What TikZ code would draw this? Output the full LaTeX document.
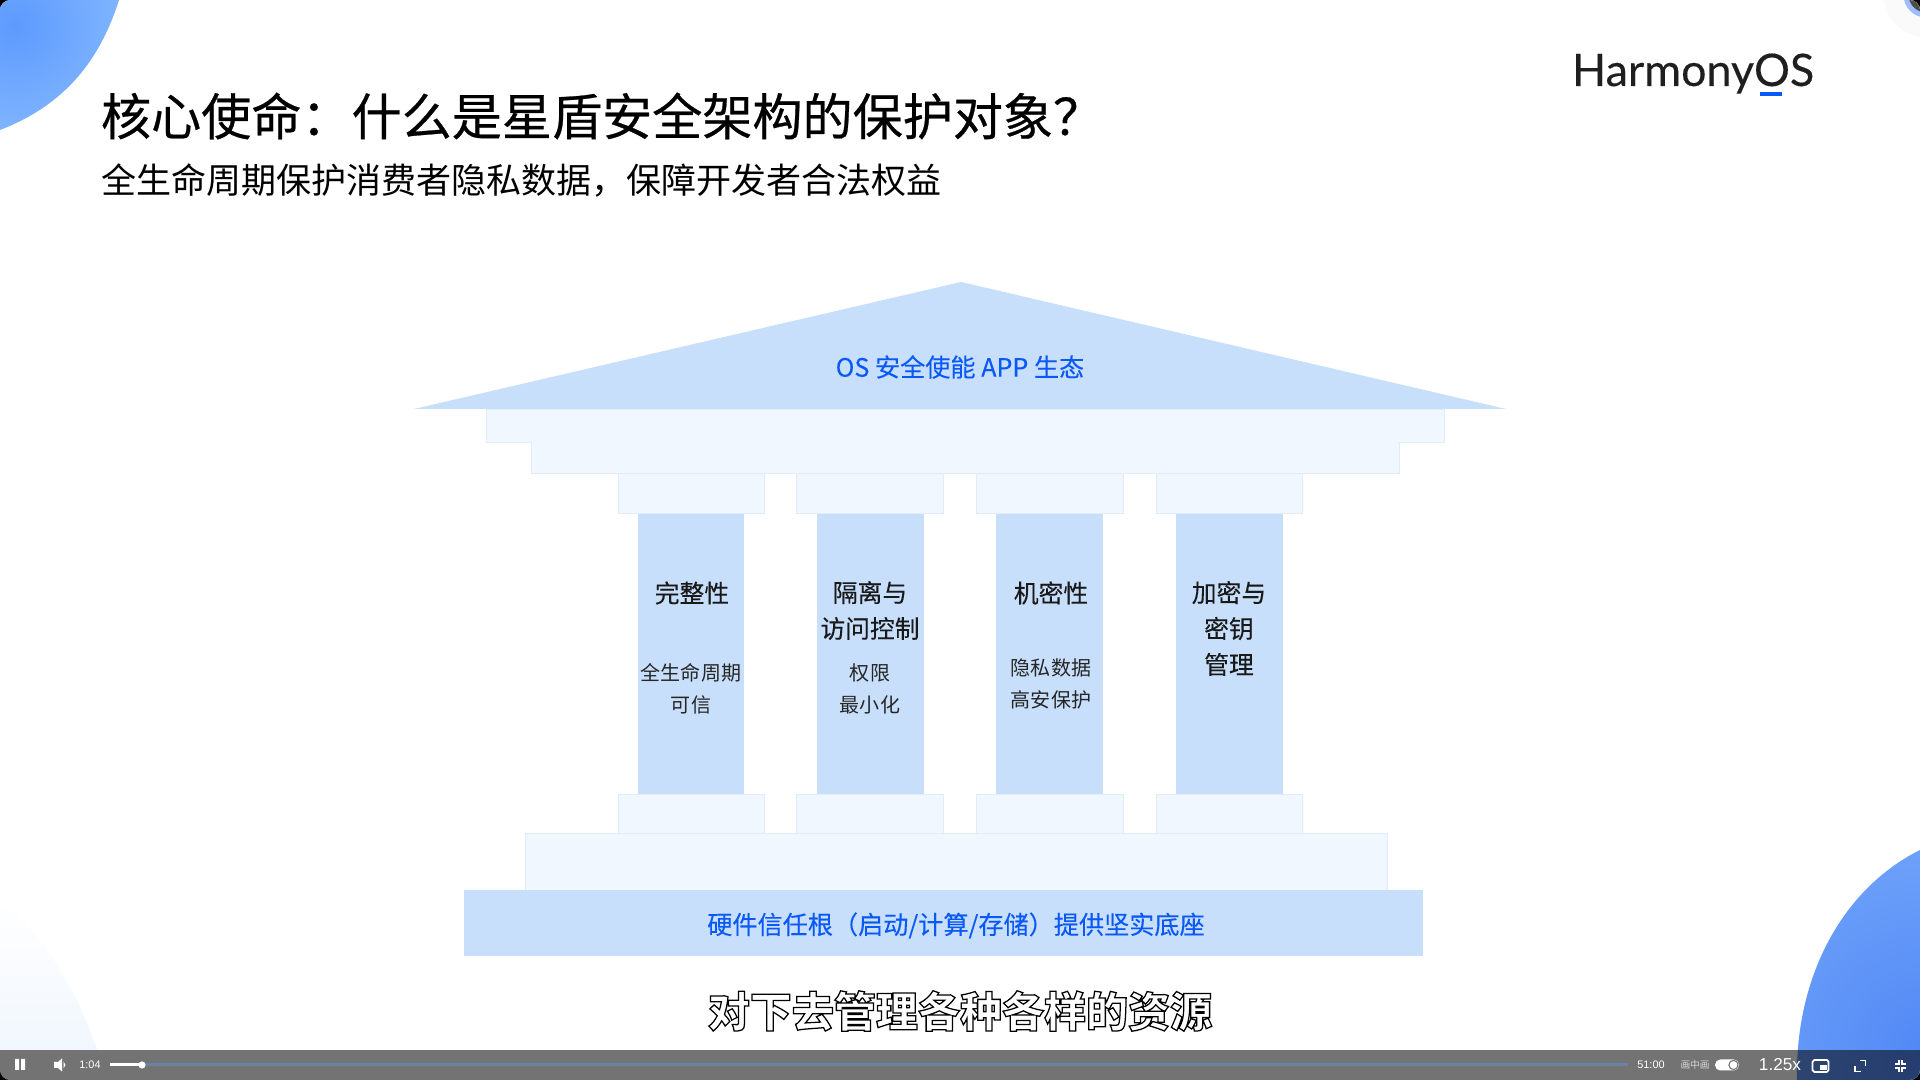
\documentclass[tikz,border=0pt]{standalone}
\usepackage{fontspec}
\setmainfont{Noto Sans CJK SC}
\newfontfamily\titlefont[FakeBold=0.5]{Noto Sans CJK SC}
\newfontfamily\headfont[FakeBold=0.2]{Noto Sans CJK SC}
\newfontfamily\capfont[BoldFeatures={FakeBold=3}]{Noto Sans CJK SC}
\newfontfamily\logofont[FakeBold=0.25]{Lato}
\newfontfamily\barfont{Liberation Sans}
\definecolor{hmblue}{HTML}{0A59F7}
\definecolor{hmfill}{HTML}{C8DFFC}
\definecolor{hmpale}{HTML}{F1F7FE}
\definecolor{hmedge}{HTML}{E1ECF9}
\definecolor{blobdeep}{HTML}{5288F5}
\definecolor{blobsky}{HTML}{5C9AFE}
\definecolor{blobrim}{HTML}{A8D2FF}
\definecolor{blobedge}{HTML}{8ABCFF}
\definecolor{tracktint}{HTML}{6A82A6}
\begin{document}
\begin{tikzpicture}[x=0.01cm, y=-0.01cm, inner sep=0pt, outer sep=0pt,
  slab/.style={draw=hmedge, line width=0.25pt, fill=hmpale, anchor=north west},
  shaft/.style={fill=hmfill, anchor=north west},
  headtxt/.style={font=\headfont\fontsize{7.05}{10.2}\selectfont, align=center, text=black!90},
  subtxt/.style={font=\fontsize{5.69}{9.1}\selectfont, align=center, text=black!85},
  bluetxt/.style={font=\headfont\fontsize{7.15}{10}\selectfont, text=hmblue},
  bartxt/.style={font=\barfont\fontsize{3.1}{4}\selectfont, text=white}]
  \useasboundingbox (0,0) rectangle (1920,1080);
  \fill[black] (0,0) rectangle (1920,1080);
  \clip[rounded corners=3pt] (0,0) rectangle (1920,1080);
  \fill[white] (0,0) rectangle (1920,1080);

  % corner blobs
  \begin{scope}
    \clip (0,0) -- (119,0) .. controls (100,60) and (65,105) .. (0,130) -- cycle;
    \shade[inner color=blobsky, outer color=blobrim] (15,25) circle [radius=230];
  \end{scope}
  \begin{scope}
    \clip (1797,1080) .. controls (1795,980) and (1840,890) .. (1920,850) -- (1920,1080) -- cycle;
    \shade[inner color=blobdeep, outer color=blobedge] (1925,1050) circle [radius=420];
  \end{scope}
  \shade[top color=white, bottom color=hmpale] (0,900) .. controls (50,940) and (80,1000) .. (97,1050) -- (0,1050) -- cycle;
  \fill[black!2] (1926,-5) circle [radius=42];
  \draw[line width=1.4pt, draw=hmblue!40!white, fill=black!70] (1926,-5) circle [radius=20];

  % title block
  \node[anchor=west, font=\titlefont\fontsize{14.25}{17}\selectfont] (titleLine) at (101,116) {核心使命^^^^ff1a什么是星盾安全架构的保护对象^^^^ff1f};
  \node[anchor=west, font=\fontsize{9.96}{12}\selectfont] (subLine) at (101,180) {全生命周期保护消费者隐私数据^^^^ff0c保障开发者合法权益};
  \node[anchor=base west, font=\logofont\fontsize{12.75}{16}\selectfont, text=black!88] (logoText) at (1572,86) {HarmonyOS};
  \fill[hmblue] (1760,92) rectangle (1782,96);

  % roof and beams
  \fill[hmfill] (414,409) -- (961,282) -- (1506,409) -- cycle;
  \node[bluetxt] (roofLabel) at (960,367) {OS 安全使能 APP 生态};
  \node[slab, minimum width=958*0.01cm, minimum height=33*0.01cm] (beamTop) at (486,409) {};
  \node[slab, minimum width=868*0.01cm, minimum height=31*0.01cm] (beamLow) at (531,442) {};
  \fill[hmpale] (532,440) rectangle (1398,444);

  % capitals
  \node[slab, minimum width=146*0.01cm, minimum height=40*0.01cm] (capA) at (618,473) {};
  \node[slab, minimum width=147*0.01cm, minimum height=40*0.01cm] (capB) at (796,473) {};
  \node[slab, minimum width=147*0.01cm, minimum height=40*0.01cm] (capC) at (976,473) {};
  \node[slab, minimum width=146*0.01cm, minimum height=40*0.01cm] (capD) at (1156,473) {};

  % columns
  \node[shaft, minimum width=106*0.01cm, minimum height=281*0.01cm] (colA) at (638,514) {};
  \node[shaft, minimum width=107*0.01cm, minimum height=281*0.01cm] (colB) at (817,514) {};
  \node[shaft, minimum width=107*0.01cm, minimum height=281*0.01cm] (colC) at (996,514) {};
  \node[shaft, minimum width=107*0.01cm, minimum height=281*0.01cm] (colD) at (1176,514) {};

  \node[headtxt] (headA) at (692,593) {完整性};
  \node[headtxt] (headB) at (870,610.5) {隔离与\\访问控制};
  \node[headtxt] (headC) at (1051,593) {机密性};
  \node[headtxt] (headD) at (1229,628.5) {加密与\\密钥\\管理};
  \node[subtxt] (noteA) at (691,688.5) {全生命周期\\可信};
  \node[subtxt] (noteB) at (870,688.5) {权限\\最小化};
  \node[subtxt] (noteC) at (1051,683.5) {隐私数据\\高安保护};

  % plinths and base
  \node[slab, minimum width=146*0.01cm, minimum height=39*0.01cm] (footA) at (618,794) {};
  \node[slab, minimum width=147*0.01cm, minimum height=39*0.01cm] (footB) at (796,794) {};
  \node[slab, minimum width=147*0.01cm, minimum height=39*0.01cm] (footC) at (976,794) {};
  \node[slab, minimum width=146*0.01cm, minimum height=39*0.01cm] (footD) at (1156,794) {};
  \node[slab, minimum width=862*0.01cm, minimum height=57*0.01cm] (stepBase) at (525,833) {};
  \node[shaft, minimum width=959*0.01cm, minimum height=66*0.01cm] (baseRoot) at (464,890) {};
  \node[bluetxt] (baseLabel) at (956,925.5) {硬件信任根^^^^ff08启动/计算/存储^^^^ff09提供坚实底座};

  % burnt-in caption
  \node[font=\capfont\bfseries\fontsize{11.95}{14}\selectfont, text=white] (capLine) at (960,1011) {\special{pdf:code 0 0 0 RG}对下去管理各种各样的资源};

  % player bar
  \fill[black, opacity=0.55] (0,1050) rectangle (1920,1080);
  \fill[white] (15,1059) rectangle (19,1070) (21,1059) rectangle (25,1070);
  \fill[white] (54,1062) -- (58,1062) -- (62,1058.5) -- (62,1071.5) -- (58,1068) -- (54,1068) -- cycle;
  \fill[white] (63.5,1061.5) -- (65.5,1065) -- (63.5,1068.5) -- cycle;
  \node[bartxt] (timeNow) at (90,1065) {1:04};
  \draw[line width=0.85pt, draw=tracktint] (142,1065) -- (1628,1065);
  \draw[line width=0.85pt, draw=white] (110,1065) -- (142,1065);
  \fill[white] (142,1065) circle [radius=3.6];
  \node[bartxt] (timeAll) at (1651,1065) {51:00};
  \node[font=\fontsize{2.75}{4}\selectfont, text=white!85!black] (pipWord) at (1695,1065) {画中画};
  \fill[white, rounded corners=1.5pt] (1715,1059.5) rectangle (1739,1070.5);
  \draw[line width=0.3pt, draw=black!55, fill=white] (1733.5,1065) circle [radius=4.6];
  \node[font=\barfont\fontsize{4.9}{6}\selectfont, text=white] (speedTxt) at (1780,1065) {1.25x};
  \draw[line width=0.5pt, draw=white, rounded corners=0.5pt] (1812.5,1060) rectangle (1828.5,1072);
  \fill[white] (1820,1065) rectangle (1827,1070.5);
  \draw[line width=0.45pt, draw=white] (1860,1060.5) -- (1865.5,1060.5) -- (1865.5,1066);
  \draw[line width=0.45pt, draw=white] (1855,1066) -- (1855,1071.5) -- (1860.5,1071.5);
  \draw[line width=0.45pt, draw=white] (1899,1060) -- (1899,1064) -- (1895,1064);
  \draw[line width=0.45pt, draw=white] (1902,1060) -- (1902,1064) -- (1906,1064);
  \draw[line width=0.45pt, draw=white] (1899,1072) -- (1899,1068) -- (1895,1068);
  \draw[line width=0.45pt, draw=white] (1902,1072) -- (1902,1068) -- (1906,1068);
\end{tikzpicture}
\end{document}
